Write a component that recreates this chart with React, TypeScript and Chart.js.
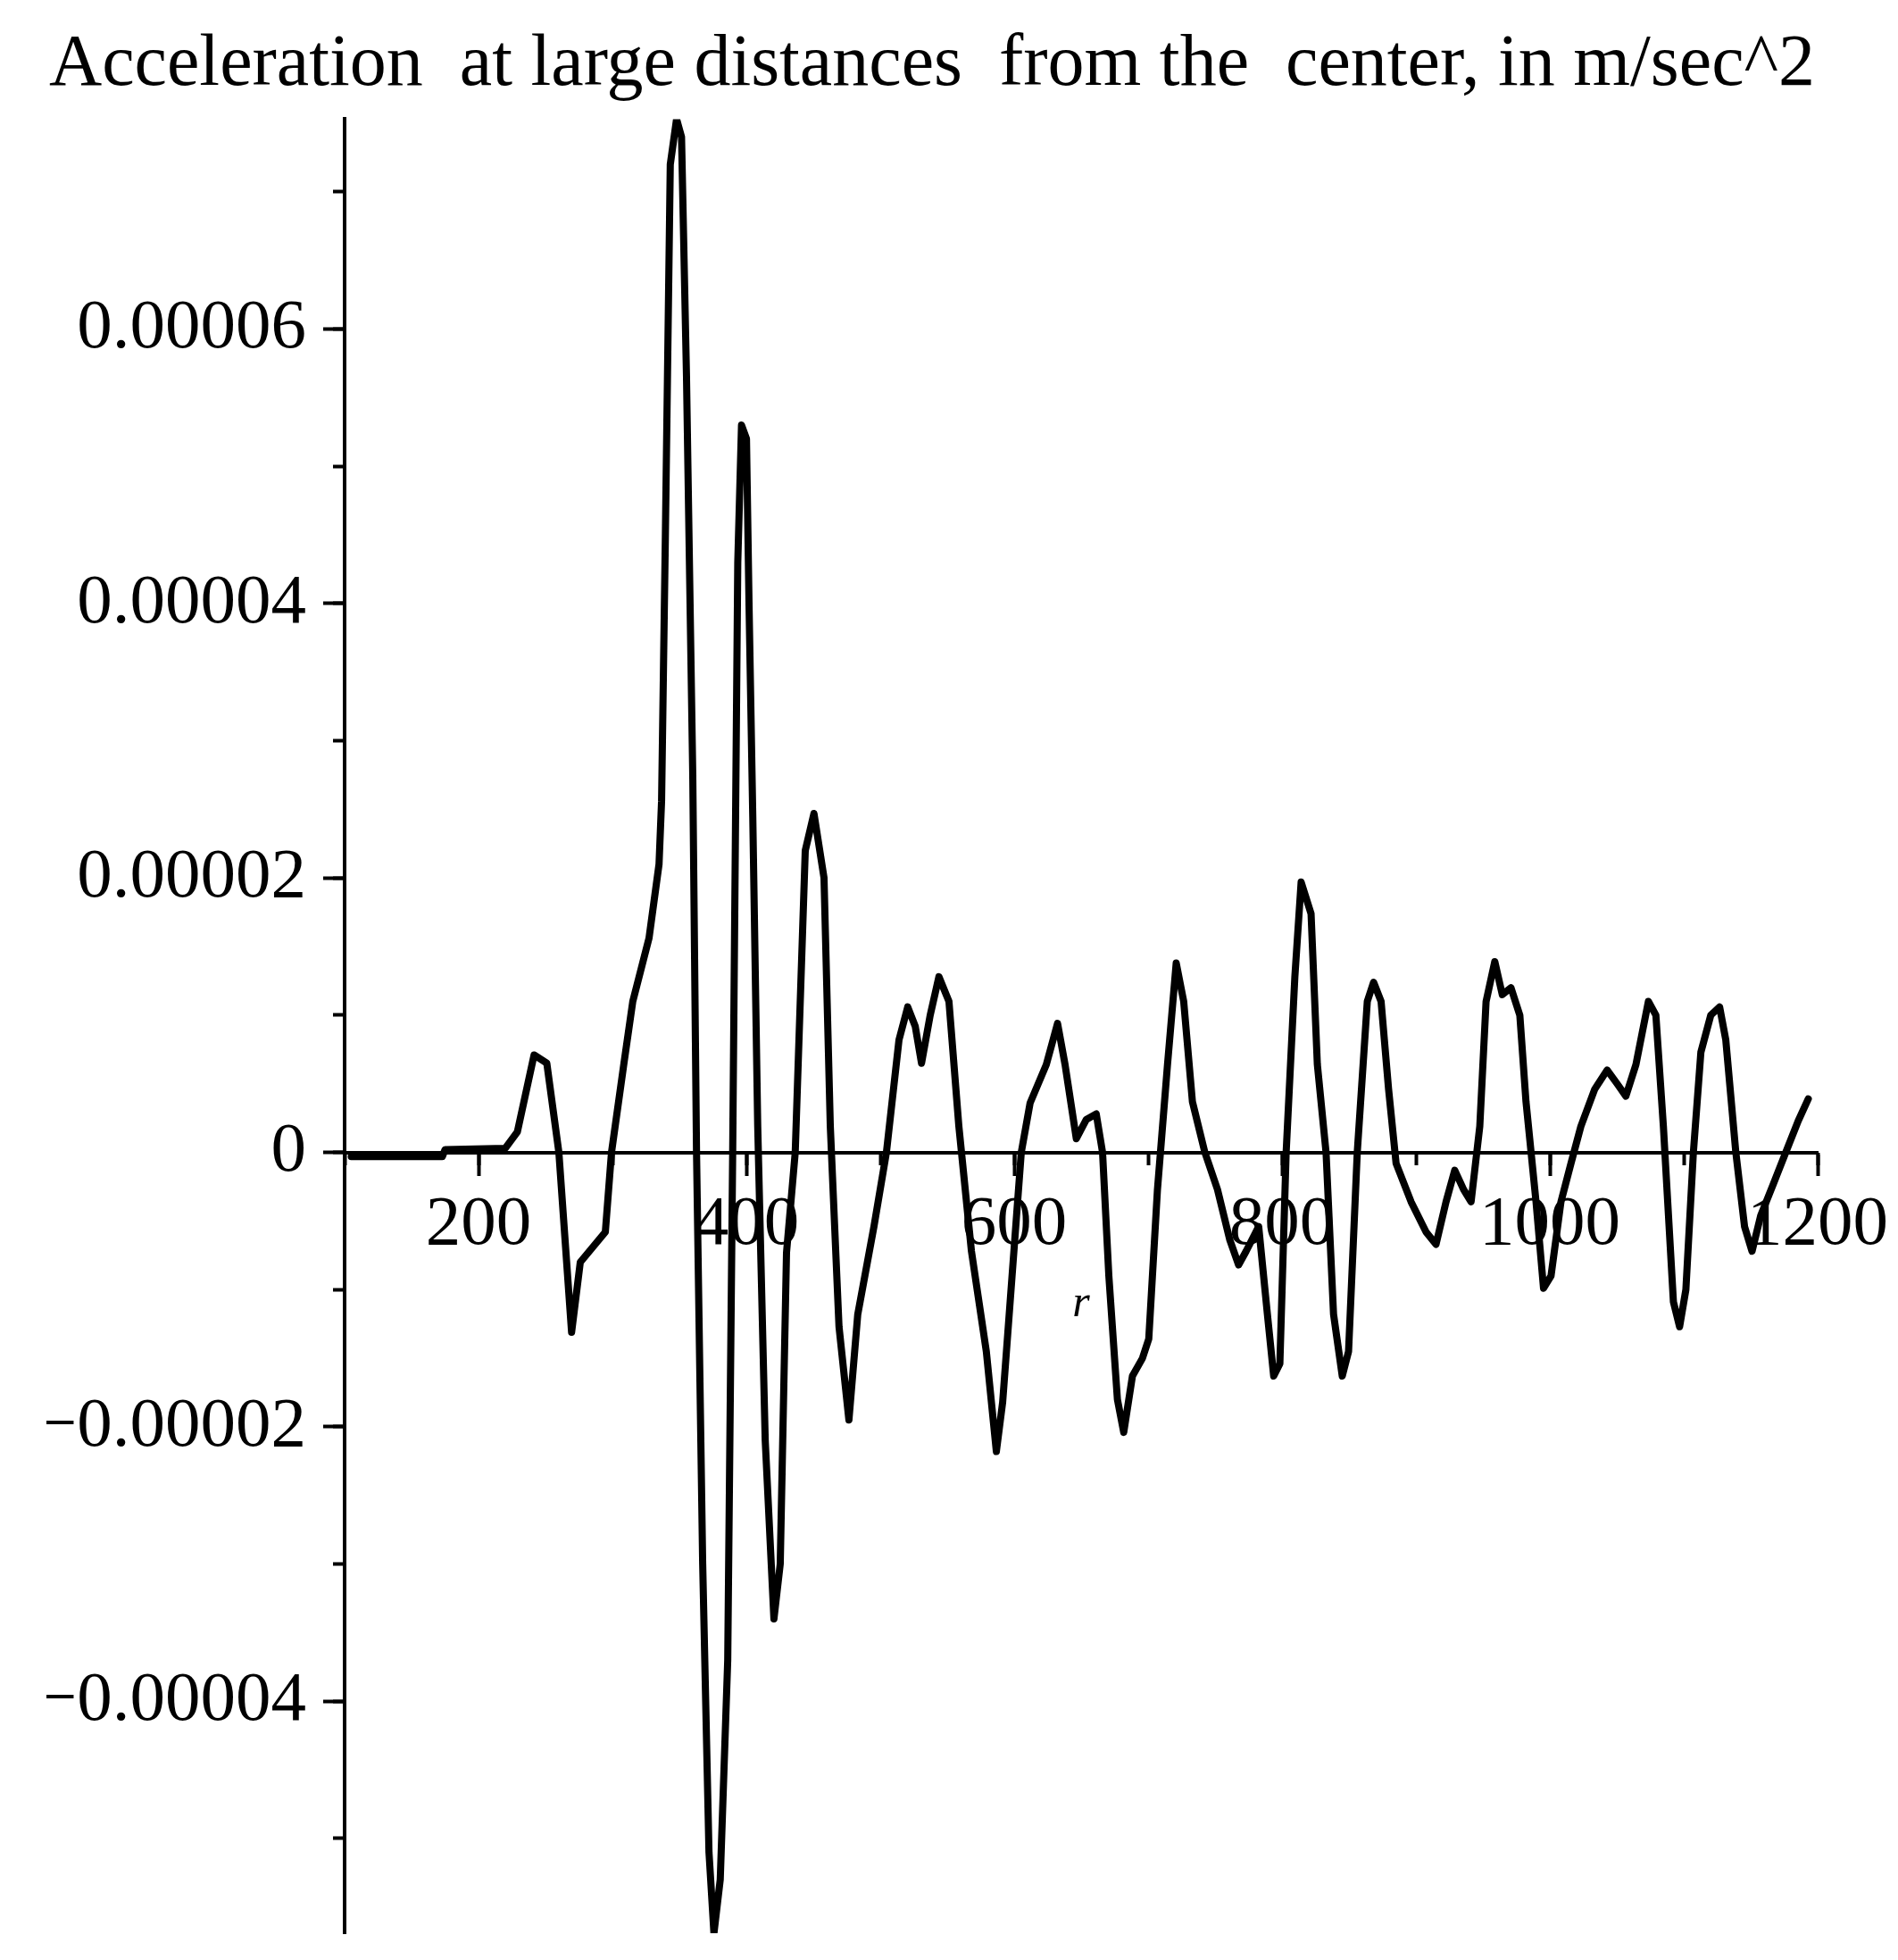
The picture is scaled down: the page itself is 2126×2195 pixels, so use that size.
import React, { useEffect, useRef } from 'react';
import { Chart, registerables } from 'chart.js';

Chart.register(...registerables);

// ---- text ----
const TITLE = 'Acceleration  at large distances  from the  center, in m/sec^2';
const X_TITLE = 'r';

// ---- axis ranges / ticks ----
const X_MIN = 100;
const X_MAX = 1200;
const X_MAJOR_STEP = 200;
const X_MINOR_STEP = 100;
const Y_MIN = -0.0000569;
const Y_MAX = 0.0000753;
const Y_MAJOR_STEP = 0.00002;
const Y_MINOR_STEP = 0.00001;

// ---- data: r (distance) ----
const R_VALUES = [
  105, 173, 175, 220, 229, 241.5, 251, 260, 269.5, 276, 294.7, 299.3, 308.6, 315.2, 327.3,
  334.8, 336.7, 339.5, 343.2, 347.9, 351.6, 355.3, 360, 362.8, 367.4, 372.1, 375.8, 380.5,
  386.1, 389.8, 393.6, 396.4, 400.1, 402, 404.8, 408.5, 414.1, 420.6, 425.3, 430, 436.5,
  444, 450.5, 458, 462.7, 469.2, 476.6, 483.2, 495.3, 504.6, 514, 520.5, 526.1, 530.8,
  537.3, 543.8, 551.3, 558.7, 568.1, 579.2, 586.7, 591.4, 599.8, 605.3, 611.9, 624, 632.4,
  638, 646.4, 653.9, 661.3, 666, 670.7, 677.1, 681.8, 688.3, 695.8, 700.5, 707, 714.5, 721,
  726.6, 733.1, 742.4, 751.8, 761.1, 767.6, 773.2, 782.6, 789.1, 793.8, 798.4, 803.1, 809.6,
  814.3, 821.7, 826.4, 832.9, 838.5, 845, 849.7, 856.2, 863.7, 868.4, 874, 879.6, 885.2,
  896.4, 907.6, 915, 922.5, 929, 935.6, 941.2, 947.7, 952.4, 958.9, 964.5, 971, 977.6, 982.2,
  989.7, 995.3, 1000.9, 1008.3, 1015.8, 1023.2, 1033.5, 1042.8, 1050.3, 1056.8, 1064.3,
  1073.6, 1079.2, 1084.8, 1092.3, 1096.9, 1101.6, 1107.2, 1112.8, 1120.2, 1126.8, 1131.4,
  1138.9, 1145.4, 1151, 1157.5, 1166.9, 1176.2, 1185.5, 1193,
];

// ---- data: acceleration (m/sec^2) ----
const ACCEL = [
  -0.3e-6, -0.3e-6, 0.2e-6, 0.3e-6, 1.5e-6, 7.1e-6, 6.5e-6, 0, -13.1e-6, -8e-6, -5.8e-6, 0,
  6.5e-6, 11e-6, 15.6e-6,
  21e-6, 25.6e-6, 44.7e-6, 72e-6, 75.3e-6, 74e-6, 56.6e-6, 27.4e-6, 0, -30e-6, -51e-6,
  -56.9e-6, -53e-6,
  -37e-6, 0, 43e-6, 53e-6, 52e-6, 40e-6, 24.5e-6, 1.9e-6, -21e-6, -34e-6, -30e-6, -7.3e-6, 0,
  22e-6, 24.7e-6, 20e-6, 1.9e-6, -12.7e-6, -19.5e-6, -11.8e-6, -5.4e-6, 0, 8.2e-6, 10.6e-6,
  9.2e-6, 6.5e-6,
  10e-6, 12.8e-6, 11e-6, 1.9e-6, -7.2e-6, -14.5e-6, -21.8e-6, -18.2e-6, -7.2e-6, 0, 3.6e-6,
  6.4e-6, 9.4e-6,
  6.4e-6, 1e-6, 2.4e-6, 2.8e-6, 0, -9e-6, -18e-6, -20.4e-6, -16.3e-6, -15e-6, -13.6e-6,
  -2.7e-6, 6.4e-6, 13.8e-6,
  11e-6, 3.7e-6, 0, -2.7e-6, -6.4e-6, -8.2e-6, -7.2e-6, -5.4e-6, -11.8e-6, -16.3e-6,
  -15.4e-6, 0, 12.8e-6,
  19.7e-6, 17.4e-6, 6.4e-6, 0, -11.8e-6, -16.3e-6, -14.5e-6, 0, 11e-6, 12.4e-6, 11e-6,
  4.6e-6, -0.8e-6,
  -3.6e-6, -5.8e-6, -6.7e-6, -3.6e-6, -1.3e-6, -2.7e-6, -3.6e-6, 1.9e-6, 11e-6, 13.9e-6,
  11.5e-6, 12e-6, 10e-6, 3.7e-6,
  -3.6e-6, -9.9e-6, -9e-6, -3.6e-6, -0.8e-6, 1.9e-6, 4.6e-6, 6e-6, 5e-6, 4.1e-6, 6.4e-6,
  11e-6, 10e-6, 1.9e-6, -10.9e-6, -12.7e-6, -10e-6, 0, 7.3e-6, 10e-6, 10.6e-6, 8.2e-6,
  0, -5.4e-6, -7.2e-6, -4.6e-6, -2.3e-6, 0, 2.3e-6, 3.9e-6,
];

const SERIF = "'Liberation Serif', 'Times New Roman', Times, serif";

function yLabel(v: number | string): string {
  const k = Math.round(Number(v) / Y_MINOR_STEP);
  if (k === 0) return '0';
  const s = '0.0000' + Math.abs(k);
  return k < 0 ? '\u2212' + s : s;
}

function xLabel(v: number | string): string {
  const n = Math.round(Number(v));
  return n % X_MAJOR_STEP === 0 && n > 0 ? String(n) : '';
}

export default function App() {
  const ref = useRef<HTMLCanvasElement | null>(null);

  useEffect(() => {
    const canvas = ref.current;
    if (!canvas) return;
    const points = R_VALUES.map((r, i) => ({ x: r, y: ACCEL[i] }));

    const chart = new Chart(canvas, {
      type: 'line',
      data: {
        datasets: [
          {
            data: points,
            xAxisID: 'x',
            yAxisID: 'y',
            borderColor: '#000',
            borderWidth: 8,
            pointRadius: 0,
            tension: 0,
            fill: false,
            borderJoinStyle: 'round',
            borderCapStyle: 'round',
          },
        ],
      },
      options: {
        responsive: false,
        animation: false,
        events: [],
        layout: { padding: { left: 44, right: 82, top: 0, bottom: 22 } },
        plugins: {
          legend: { display: false },
          tooltip: { enabled: false },
          title: {
            display: true,
            text: TITLE,
            color: '#000',
            align: 'center',
            font: { family: SERIF, size: 82, weight: 'normal' },
            padding: { top: 16, bottom: 11 },
          },
        },
        scales: {
          x: {
            type: 'linear',
            position: { y: 0 },
            min: X_MIN,
            max: X_MAX,
            ticks: {
              stepSize: X_MAJOR_STEP,
              includeBounds: false,
              autoSkip: false,
              maxRotation: 0,
              callback: (v: any) => xLabel(v),
              color: '#000',
              font: { family: SERIF, size: 79 },
              padding: 10,
            },
            grid: {
              drawOnChartArea: false,
              drawTicks: true,
              tickLength: 24,
              tickWidth: 4,
              tickColor: '#000',
            },
            border: { display: true, color: '#000', width: 4 },
            title: {
              display: true,
              text: X_TITLE,
              color: '#000',
              font: { family: SERIF, size: 50, style: 'italic' },
              padding: { top: 0, bottom: -200 },
            },
            afterFit: (s: any) => {
              s.height = 0;
              s.paddingLeft = 0;
              s.paddingRight = 0;
            },
          },
          x2: {
            type: 'linear',
            position: { y: 0 },
            min: X_MIN,
            max: X_MAX,
            ticks: { stepSize: X_MINOR_STEP, includeBounds: false, display: false },
            grid: {
              drawOnChartArea: false,
              drawTicks: true,
              tickLength: 14,
              tickWidth: 4,
              tickColor: '#000',
            },
            border: { display: false },
            afterFit: (s: any) => {
              s.height = 0;
              s.paddingLeft = 0;
              s.paddingRight = 0;
            },
          },
          y: {
            type: 'linear',
            position: 'left',
            weight: 1,
            min: Y_MIN,
            max: Y_MAX,
            ticks: {
              stepSize: Y_MAJOR_STEP,
              includeBounds: false,
              autoSkip: false,
              callback: (v: any) => yLabel(v),
              color: '#000',
              font: { family: SERIF, size: 79 },
              padding: 19,
            },
            grid: {
              drawOnChartArea: false,
              drawTicks: true,
              tickLength: 24,
              tickWidth: 4,
              tickColor: '#000',
            },
            border: { display: true, color: '#000', width: 4 },
            afterFit: (s: any) => {
              s.width = 334;
              s.paddingTop = 0;
              s.paddingBottom = 0;
            },
          },
          y2: {
            type: 'linear',
            position: 'left',
            weight: 0,
            min: Y_MIN,
            max: Y_MAX,
            ticks: { stepSize: Y_MINOR_STEP, includeBounds: false, display: false },
            grid: {
              drawOnChartArea: false,
              drawTicks: true,
              tickLength: 13,
              tickWidth: 4,
              tickColor: '#000',
            },
            border: { display: false },
            afterFit: (s: any) => {
              s.width = 0;
              s.paddingTop = 0;
              s.paddingBottom = 0;
            },
          },
        },
      } as any,
    });

    return () => {
      chart.destroy();
    };
  }, []);

  return <canvas ref={ref} width={2110} height={2179} style={{ display: 'block' }} />;
}
